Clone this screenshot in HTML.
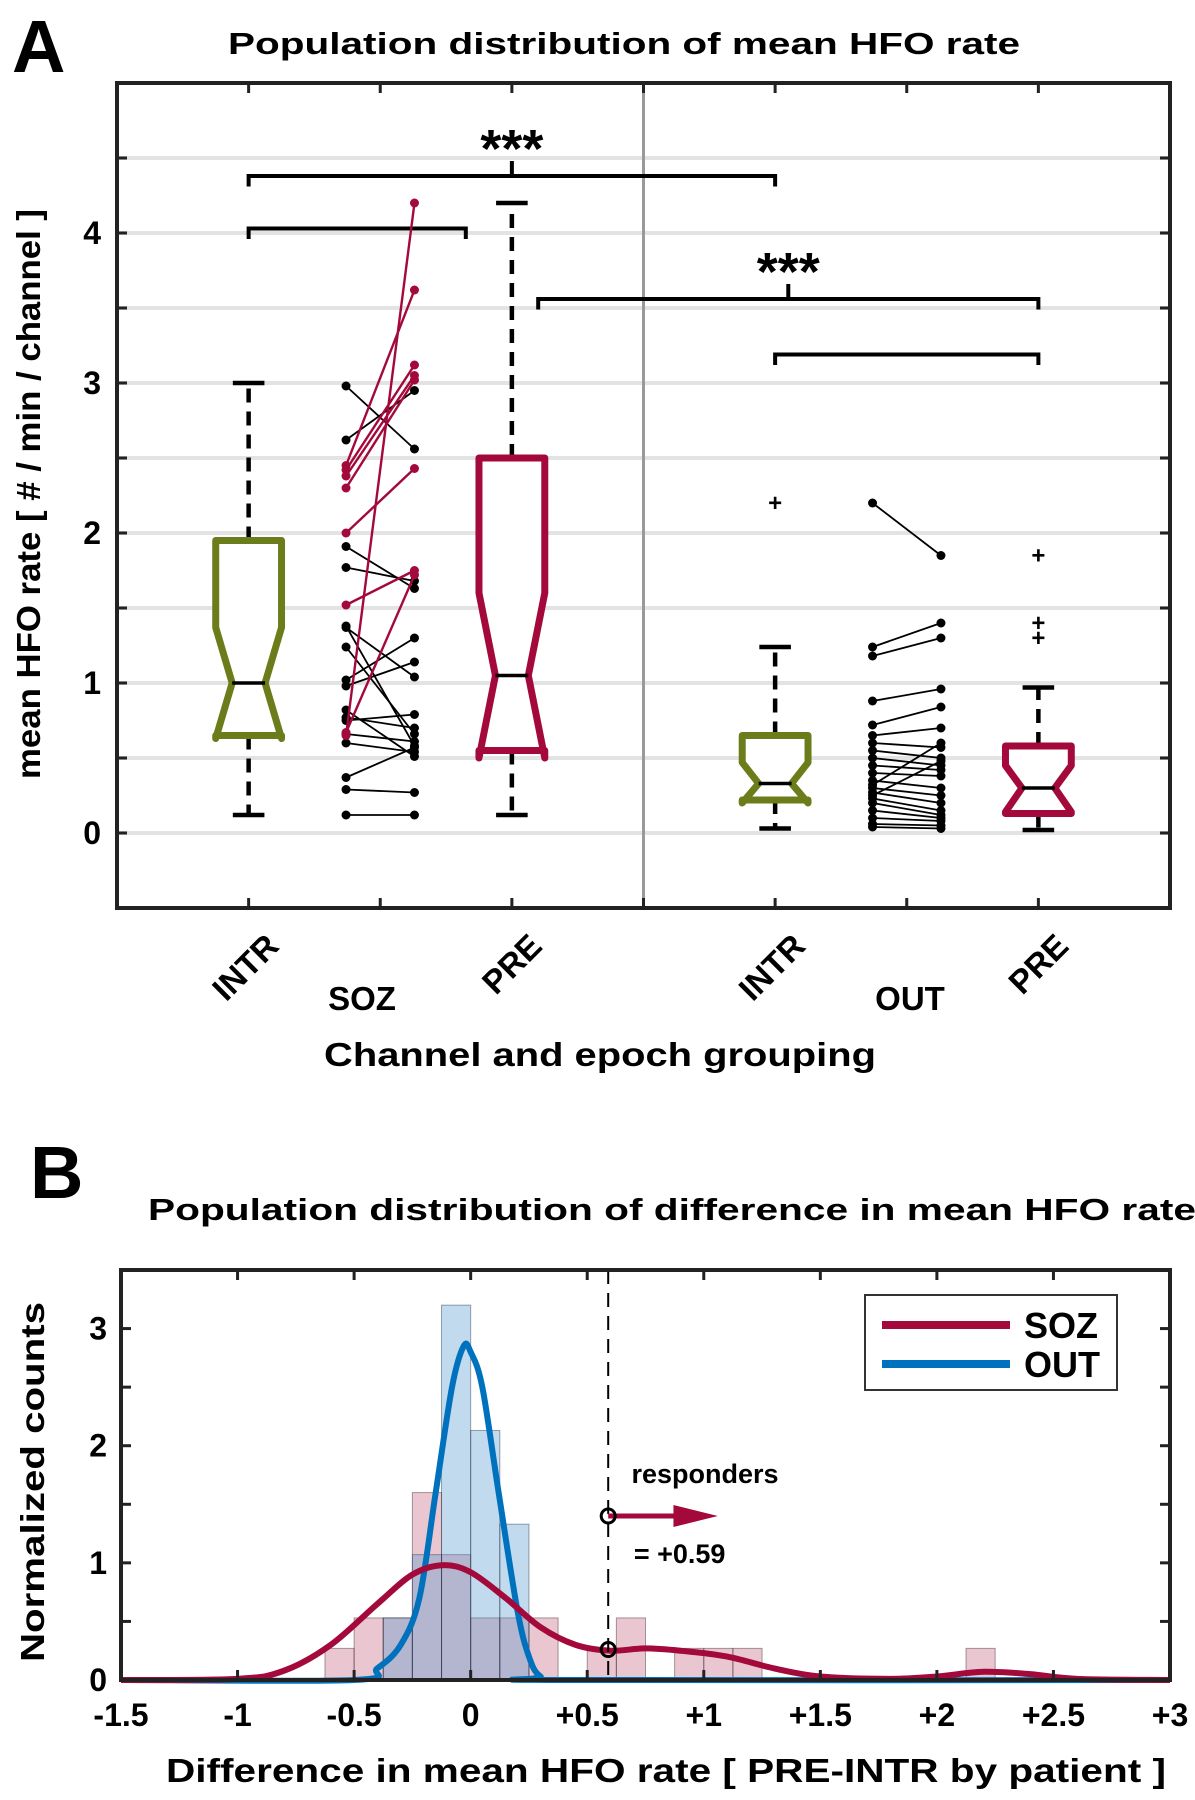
<!DOCTYPE html>
<html><head><meta charset="utf-8"><style>
html,body{margin:0;padding:0;background:#fff;}
svg{display:block;font-family:"Liberation Sans",sans-serif;font-weight:bold;}
</style></head><body>
<svg id="fig" width="1195" height="1800" viewBox="0 0 1195 1800" xmlns="http://www.w3.org/2000/svg">
<text x="12" y="72" font-size="74" font-weight="bold">A</text>
<text x="624" y="54" font-size="31" text-anchor="middle" textLength="792" lengthAdjust="spacingAndGlyphs">Population distribution of mean HFO rate</text>
<text transform="translate(40,494) rotate(-90)" font-size="33" text-anchor="middle" textLength="570" lengthAdjust="spacingAndGlyphs">mean HFO rate [ # / min / channel ]</text>
<text x="600" y="1066" font-size="33" text-anchor="middle" textLength="552" lengthAdjust="spacingAndGlyphs">Channel and epoch grouping</text>
<text x="362" y="1010" font-size="33" text-anchor="middle">SOZ</text>
<text x="910" y="1010" font-size="33" text-anchor="middle">OUT</text>
<text x="30" y="1198" font-size="74" font-weight="bold">B</text>
<text x="672" y="1220" font-size="31" text-anchor="middle" textLength="1048" lengthAdjust="spacingAndGlyphs">Population distribution of difference in mean HFO rate</text>
<text transform="translate(44,1482) rotate(-90)" font-size="33" text-anchor="middle" textLength="360" lengthAdjust="spacingAndGlyphs">Normalized counts</text>
<text x="666" y="1782" font-size="33" text-anchor="middle" textLength="1000" lengthAdjust="spacingAndGlyphs">Difference in mean HFO rate [ PRE-INTR by patient ]</text>
<g id="gA"></g>
<g id="gB"></g>
</svg>
<script>
// ---------- Panel A data ----------
const groupPositions = [1, 3, 5, 7];
const groupNames = ['soz-intr', 'soz-pre', 'out-intr', 'out-pre'];
const boxQ1 = [0.65, 0.55, 0.22, 0.13];
const boxQ3 = [1.95, 2.5, 0.65, 0.58];
const boxMedian = [1.0, 1.05, 0.33, 0.30];
const notchLow = [0.63, 0.50, 0.20, 0.14];
const notchHigh = [1.37, 1.60, 0.47, 0.45];
const whiskerLow = [0.12, 0.12, 0.03, 0.02];
const whiskerHigh = [3.0, 4.2, 1.24, 0.97];
const outliers = [[], [], [2.2], [1.85, 1.4, 1.3]];
const sozIntrVals = [0.65, 2.45, 2.42, 2.38, 2.30, 2.0, 1.52, 0.67, 2.98, 2.62, 1.91, 1.77, 1.38, 1.37, 1.24, 1.02, 0.98, 0.82, 0.77, 0.75, 0.66, 0.60, 0.37, 0.29, 0.12];
const sozPreVals = [4.2, 3.62, 3.12, 3.05, 3.02, 2.43, 1.75, 1.72, 2.56, 2.95, 1.63, 1.68, 0.58, 1.04, 0.66, 1.30, 1.14, 0.51, 0.70, 0.79, 0.61, 0.54, 0.57, 0.27, 0.12];
const sozResponder = [1,1,1,1,1,1,1,1,0,0,0,0,0,0,0,0,0,0,0,0,0,0,0,0,0];
const outIntrVals = [2.2, 1.24, 1.18, 0.88, 0.72, 0.65, 0.60, 0.55, 0.50, 0.45, 0.40, 0.35, 0.32, 0.30, 0.27, 0.25, 0.23, 0.20, 0.15, 0.10, 0.06, 0.04];
const outPreVals = [1.85, 1.40, 1.30, 0.96, 0.84, 0.70, 0.57, 0.50, 0.45, 0.42, 0.38, 0.30, 0.60, 0.25, 0.20, 0.48, 0.15, 0.12, 0.10, 0.08, 0.05, 0.03];
const yTicksA = [0, 1, 2, 3, 4];
const xTickLabelsA = ['INTR', 'PRE', 'INTR', 'PRE'];
const bracketsFrom = [1, 1, 3.2, 5];
const bracketsTo = [5, 2.65, 7, 7];
const bracketsLevel = [4.38, 4.03, 3.56, 3.19];
const bracketsStars = ['***', '', '***', ''];

// ---------- Panel B data ----------
const binEdgesLeft = [-0.625,-0.5,-0.375,-0.25,-0.125,0,0.125,0.25,0.5,0.625,0.875,1.0,1.125,2.125];
const sozBinHeights = [0.27,0.53,0.53,1.6,1.07,0.53,0.53,0.53,0.27,0.53,0.27,0.27,0.27,0.27];
const outBinLeft = [-0.375,-0.25,-0.125,0,0.125];
const outBinHeights = [0.53,1.07,3.2,2.13,1.33];
const binWidth = 0.125;
const sozKdeX = [-1.5,-1.0,-0.8,-0.6,-0.4,-0.25,-0.12,0,0.15,0.3,0.45,0.6,0.75,0.9,1.1,1.3,1.5,1.8,2.0,2.2,2.4,2.6,3.0];
const sozKdeY = [0,0.01,0.08,0.3,0.65,0.9,0.98,0.92,0.7,0.45,0.3,0.25,0.27,0.25,0.2,0.1,0.03,0.01,0.03,0.07,0.05,0.01,0];
const outKdeX = [-1.5,-0.5,-0.4,-0.3,-0.22,-0.15,-0.08,-0.03,0,0.05,0.12,0.2,0.25,0.3,0.4,3.0];
const outKdeY = [0,0,0.1,0.3,0.7,1.6,2.5,2.85,2.8,2.5,1.6,0.6,0.2,0.03,0,0];
const threshold = 0.59;
const xTicksB = [-1.5,-1,-0.5,0,0.5,1,1.5,2,2.5,3];
const xTickLabelsB = ['-1.5','-1','-0.5','0','+0.5','+1','+1.5','+2','+2.5','+3'];
const yTicksB = [0,1,2,3];

const NS = 'http://www.w3.org/2000/svg';
function mk(parent, tag, attrs) {
  const e = document.createElementNS(NS, tag);
  for (const k in attrs) e.setAttribute(k, attrs[k]);
  parent.appendChild(e);
  return e;
}
const OLIVE = '#6b7d1a', CRIM = '#a3093a', BLUE = '#0072bd';

// ---------- Panel A ----------
const gA = document.getElementById('gA');
const AL = 117, AR = 1170, AT = 83, AB = 908;
const xA = p => AL + p * (AR - AL) / 8;
const yA = v => AB - (v + 0.5) * (AB - AT) / 5.5;
for (let v = -0.5; v <= 5.0001; v += 0.5) {
  const g = mk(gA, 'line', {x1: AL, x2: AR, y1: yA(v), y2: yA(v), stroke: '#e3e3e3', 'stroke-width': 4});
  
  
  for (const [a, b] of [[AL, AL + 10], [AR, AR - 10]]) {
    const t = mk(gA, 'line', {x1: a, x2: b, y1: yA(v), y2: yA(v), stroke: '#222', 'stroke-width': 3});
    
    
  }
}
yTicksA.forEach(v => {
  const t = mk(gA, 'text', {x: AL - 16, y: yA(v) + 11, 'font-size': 32, 'text-anchor': 'end'});
  t.textContent = v;
  
  
});
const divider = mk(gA, 'line', {x1: xA(4), x2: xA(4), y1: AT, y2: AB, stroke: '#999', 'stroke-width': 3});


for (let p = 1; p <= 7; p++) {
  for (const [a, b] of [[AT, AT + 10], [AB, AB - 10]]) {
    const t = mk(gA, 'line', {x1: xA(p), x2: xA(p), y1: a, y2: b, stroke: '#222', 'stroke-width': 3});
    
    
  }
}
groupPositions.forEach((p, i) => {
  const t = mk(gA, 'text', {'font-size': 33, 'text-anchor': 'end', transform: `translate(${xA(p) + 32},${AB + 40}) rotate(-45)`});
  t.textContent = xTickLabelsA[i];
  
  
});
// brackets
bracketsFrom.forEach((f, i) => {
  const t = bracketsTo[i], lv = bracketsLevel[i];
  const d = `M${xA(f)},${yA(lv - 0.07)} L${xA(f)},${yA(lv)} L${xA(t)},${yA(lv)} L${xA(t)},${yA(lv - 0.07)}`;
  const b = mk(gA, 'path', {d, fill: 'none', stroke: '#000', 'stroke-width': 4});
  
  
  if (bracketsStars[i]) {
    const c = (f + t) / 2;
    const tk = mk(gA, 'line', {x1: xA(c), x2: xA(c), y1: yA(lv), y2: yA(lv + 0.1), stroke: '#000', 'stroke-width': 4});
    
    
    const s = mk(gA, 'text', {x: xA(c), y: yA(lv + 0.1) + 6, 'font-size': 54, 'text-anchor': 'middle'});
    s.textContent = bracketsStars[i];
    
    
  }
});
// boxes
groupPositions.forEach((p, i) => {
  const col = i % 2 === 0 ? OLIVE : CRIM;
  const w = 0.25;
  const wl = mk(gA, 'path', {d: `M${xA(p)},${yA(boxQ3[i])} L${xA(p)},${yA(whiskerHigh[i])} M${xA(p)},${yA(boxQ1[i])} L${xA(p)},${yA(whiskerLow[i])}`, stroke: '#000', 'stroke-width': 4.5, 'stroke-dasharray': '14,9', fill: 'none'});
  
  
  const caps = mk(gA, 'path', {d: `M${xA(p - 0.12)},${yA(whiskerHigh[i])} L${xA(p + 0.12)},${yA(whiskerHigh[i])} M${xA(p - 0.12)},${yA(whiskerLow[i])} L${xA(p + 0.12)},${yA(whiskerLow[i])}`, stroke: '#000', 'stroke-width': 4.5});
  
  
  const pts = [[p - w, boxQ1[i]], [p - w, notchLow[i]], [p - w / 2, boxMedian[i]], [p - w, notchHigh[i]], [p - w, boxQ3[i]], [p + w, boxQ3[i]], [p + w, notchHigh[i]], [p + w / 2, boxMedian[i]], [p + w, notchLow[i]], [p + w, boxQ1[i]]];
  const box = mk(gA, 'polygon', {points: pts.map(q => xA(q[0]) + ',' + yA(q[1])).join(' '), fill: '#fff', stroke: col, 'stroke-width': 7, 'stroke-linejoin': 'round'});
  
  
  const md = mk(gA, 'line', {x1: xA(p - w / 2), x2: xA(p + w / 2), y1: yA(boxMedian[i]), y2: yA(boxMedian[i]), stroke: '#000', 'stroke-width': 3.5});
  
  
  outliers[i].forEach(o => {
    const t = mk(gA, 'text', {x: xA(p), y: yA(o) + 8, 'font-size': 24, 'text-anchor': 'middle'});
    t.textContent = '+';
    
    
  });
});
// paired lines
function pairs(lv, rv, center, resp) {
  const xl = xA(center - 0.26), xr = xA(center + 0.26);
  const order = lv.map((_, i) => i).sort((a, b) => (resp ? resp[a] - resp[b] : 0));
  order.forEach(i => {
    const col = resp && resp[i] ? CRIM : '#000';
    const l = mk(gA, 'line', {x1: xl, y1: yA(lv[i]), x2: xr, y2: yA(rv[i]), stroke: col, 'stroke-width': col === '#000' ? 1.8 : 2.4});
    
    
    const c1 = mk(gA, 'circle', {cx: xl, cy: yA(lv[i]), r: 4.5, fill: col});
    
    
    const c2 = mk(gA, 'circle', {cx: xr, cy: yA(rv[i]), r: 4.5, fill: col});
    
    
  });
}
pairs(sozIntrVals, sozPreVals, 2, sozResponder);
pairs(outIntrVals, outPreVals, 6, null);
const frameA = mk(gA, 'rect', {x: AL, y: AT, width: AR - AL, height: AB - AT, fill: 'none', stroke: '#222', 'stroke-width': 4});



// ---------- Panel B ----------
const gB = document.getElementById('gB');
const BL = 121, BR = 1170, BT = 1270, BBm = 1680;
const xB = v => BL + (v + 1.5) * (BR - BL) / 4.5;
const yB = v => BBm - v * (BBm - BT) / 3.5;
binEdgesLeft.forEach((e, i) => {
  const r = mk(gB, 'rect', {x: xB(e), y: yB(sozBinHeights[i]), width: xB(e + binWidth) - xB(e), height: yB(0) - yB(sozBinHeights[i]), fill: 'rgba(190,80,110,0.32)', stroke: 'rgba(60,40,50,0.45)', 'stroke-width': 1});
  
  
});
outBinLeft.forEach((e, i) => {
  const r = mk(gB, 'rect', {x: xB(e), y: yB(outBinHeights[i]), width: xB(e + binWidth) - xB(e), height: yB(0) - yB(outBinHeights[i]), fill: 'rgba(80,150,205,0.35)', stroke: 'rgba(40,50,70,0.45)', 'stroke-width': 1});
  
  
});
function smooth(xs, ys) {
  const P = xs.map((x, i) => [xB(x), yB(ys[i])]);
  let d = `M${P[0][0]},${P[0][1]}`;
  for (let i = 0; i < P.length - 1; i++) {
    const p0 = P[Math.max(0, i - 1)], p1 = P[i], p2 = P[i + 1], p3 = P[Math.min(P.length - 1, i + 2)];
    const c1 = [p1[0] + (p2[0] - p0[0]) / 6, p1[1] + (p2[1] - p0[1]) / 6];
    const c2 = [p2[0] - (p3[0] - p1[0]) / 6, p2[1] - (p3[1] - p1[1]) / 6];
    d += ` C${c1[0]},${c1[1]} ${c2[0]},${c2[1]} ${p2[0]},${p2[1]}`;
  }
  return d;
}
const outLine = mk(gB, 'path', {d: smooth(outKdeX, outKdeY), fill: 'none', stroke: BLUE, 'stroke-width': 6});


const sozLine = mk(gB, 'path', {d: smooth(sozKdeX, sozKdeY), fill: 'none', stroke: CRIM, 'stroke-width': 6});


const thr = mk(gB, 'line', {x1: xB(threshold), x2: xB(threshold), y1: BT, y2: BBm, stroke: '#000', 'stroke-width': 2, 'stroke-dasharray': '14,9'});


const arr = mk(gB, 'line', {x1: xB(threshold), x2: xB(threshold + 0.3), y1: yB(1.4), y2: yB(1.4), stroke: CRIM, 'stroke-width': 5});


const ah = mk(gB, 'polygon', {points: `${xB(threshold + 0.28)},${yB(1.4) - 11} ${xB(threshold + 0.47)},${yB(1.4)} ${xB(threshold + 0.28)},${yB(1.4) + 11}`, fill: CRIM});


[1.4, 0.26].forEach(v => {
  const c = mk(gB, 'circle', {cx: xB(threshold), cy: yB(v), r: 7, fill: 'none', stroke: '#000', 'stroke-width': 3});
  
  
});
const rt = mk(gB, 'text', {x: xB(threshold + 0.1), y: yB(1.68), 'font-size': 27});
rt.textContent = 'responders';


const vt = mk(gB, 'text', {x: xB(threshold + 0.11), y: yB(1.0), 'font-size': 27});
vt.textContent = '= +0.59';


xTicksB.forEach((v, i) => {
  for (const [a, b] of [[BT, BT + 10], [BBm, BBm - 10]]) {
    const t = mk(gB, 'line', {x1: xB(v), x2: xB(v), y1: a, y2: b, stroke: '#222', 'stroke-width': 3});
    
    
  }
  const l = mk(gB, 'text', {x: xB(v), y: BBm + 46, 'font-size': 32, 'text-anchor': 'middle'});
  l.textContent = xTickLabelsB[i];
  
  
});
for (let v = 0; v <= 3.5001; v += 0.5) {
  for (const [a, b] of [[BL, BL + 10], [BR, BR - 10]]) {
    const t = mk(gB, 'line', {x1: a, x2: b, y1: yB(v), y2: yB(v), stroke: '#222', 'stroke-width': 3});
    
    
  }
}
yTicksB.forEach(v => {
  const t = mk(gB, 'text', {x: BL - 14, y: yB(v) + 11, 'font-size': 32, 'text-anchor': 'end'});
  t.textContent = v;
  
  
});
const frameB = mk(gB, 'rect', {x: BL, y: BT, width: BR - BL, height: BBm - BT, fill: 'none', stroke: '#222', 'stroke-width': 4});


// legend
const lg = mk(gB, 'g', {});


const lr = mk(lg, 'rect', {x: 865, y: 1295, width: 252, height: 95, fill: '#fff', stroke: '#333', 'stroke-width': 2});


[['SOZ', CRIM, 1325], ['OUT', BLUE, 1364]].forEach(([n, c, y]) => {
  const l = mk(lg, 'line', {x1: 882, x2: 1010, y1: y, y2: y, stroke: c, 'stroke-width': 8});
  
  
  const t = mk(lg, 'text', {x: 1024, y: y + 13, 'font-size': 36});
  t.textContent = n;
  
  
});
</script>
</body></html>
